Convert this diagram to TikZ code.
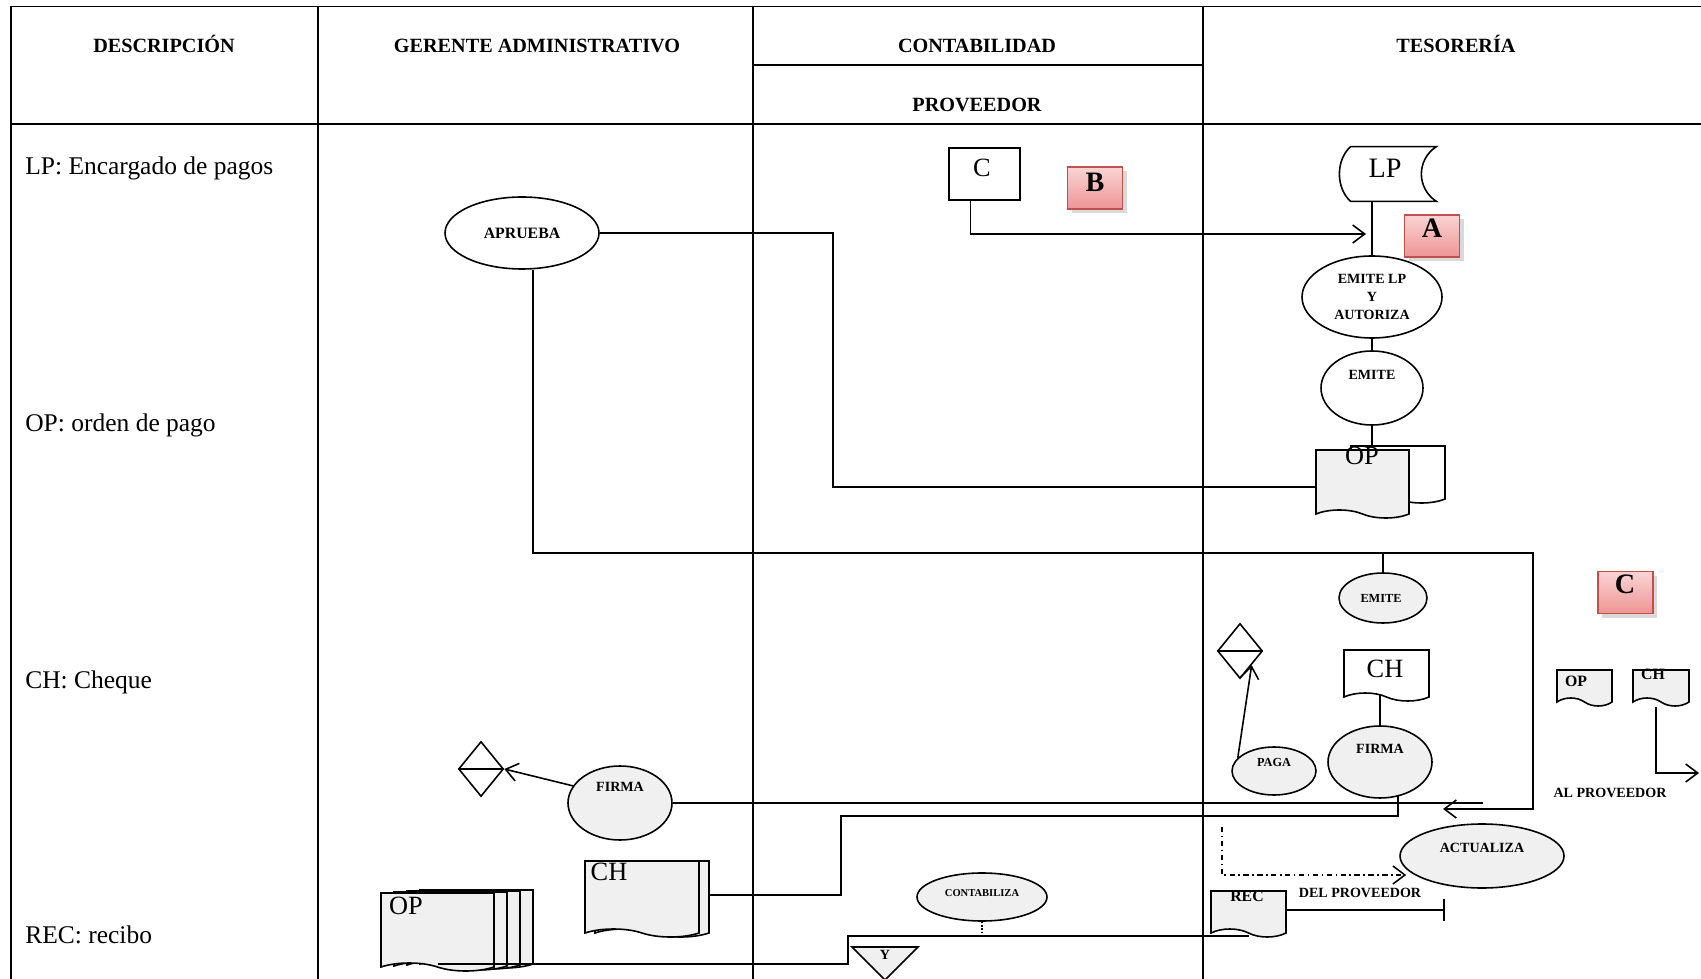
\documentclass[tikz,border=0pt]{standalone}
\usepackage{fontspec}
\setmainfont{Liberation Serif}
\usepackage{tikz}
\usetikzlibrary{arrows.meta,calc,shapes.geometric,shapes.symbols,shadows}
\definecolor{docgray}{HTML}{F0F0F0}
\definecolor{rtop}{HTML}{FAD4D4}
\definecolor{rbot}{HTML}{EE9494}
\definecolor{rline}{HTML}{C0504D}
\newcommand{\ftsz}[2]{\fontsize{#1}{#2}\selectfont}
\tikzset{
  tbl/.style   ={line width=1.1pt},
  ln/.style    ={line width=0.9pt},
  arr/.style   ={ln, -{Straight Barb[length=2.4mm,width=3.6mm]}},
  hdr/.style   ={font=\ftsz{11.5}{13}\bfseries, anchor=base, inner sep=0pt},
  desc/.style  ={font=\ftsz{14.5}{17}, anchor=base west, inner sep=0pt},
  big/.style   ={font=\ftsz{15}{18}, inner sep=0pt},
  sml/.style   ={font=\ftsz{8}{10}\bfseries, align=center, inner sep=0pt},
  ell/.style   ={draw, ellipse, ln, inner sep=0pt, fill=white},
  gell/.style  ={ell, fill=docgray},
  doc/.style   ={draw, ln, tape, tape bend top=none, tape bend bottom=out and in, tape bend height=1.6mm, inner sep=0pt, fill=docgray},
  sqbox/.style ={draw, ln, rectangle, inner sep=0pt, fill=white},
  rbox/.style  ={draw=rline, line width=0.8pt, top color=rtop, bottom color=rbot, drop shadow={opacity=0.3}, inner sep=0pt, minimum width=11mm, minimum height=8.4mm},
  rlet/.style  ={font=\ftsz{16}{18}\bfseries, inner sep=0pt},
  dia/.style   ={draw, ln, diamond, inner sep=0pt, minimum width=9mm, minimum height=11mm},
}
\begin{document}
\begin{tikzpicture}[x=0.2mm, y=-0.2mm]
  \useasboundingbox (0,0) rectangle (1701,979);
  % table frame
  \draw[tbl] (11,6.5) -- (1701,6.5);
  \draw[tbl] (11,124) -- (1701,124);
  \draw[tbl] (753,65) -- (1203,65);
  \foreach \cx in {11,318,753,1203}
    \draw[tbl] (\cx,6.5) -- (\cx,979);

  % column heads
  \node[hdr] (hdesc) at (164,53)  {DESCRIPCIÓN};
  \node[hdr] (hger)  at (537,53)  {GERENTE ADMINISTRATIVO};
  \node[hdr] (hcont) at (977,53)  {CONTABILIDAD};
  \node[hdr] (hprov) at (977,112) {PROVEEDOR};
  \node[hdr] (htes)  at (1456,53) {TESORERÍA};

  % description column
  \node[desc] (dlp)  at (25,175) {LP: Encargado de pagos};
  \node[desc] (dop)  at (25,432) {OP: orden de pago};
  \node[desc] (dch)  at (25,688) {CH: Cheque};
  \node[desc] (drec) at (25,943) {REC: recibo};

  % Gerente administrativo
  \node[ell, minimum width=30.8mm, minimum height=14.4mm, font=\ftsz{9}{11}\bfseries] (apr) at (522,233) {APRUEBA};
  \node[dia] (dg) at (481,769) {};
  \draw[ln] (dg.west) -- (dg.east);
  \node[gell, minimum width=20.8mm, minimum height=14.8mm] (firg) at (620,803) {};
  \node[sml] (firgt) at (620,787) {FIRMA};
  \node[doc, minimum width=22.8mm, minimum height=15.2mm] (chgb) at (652,895) {};
  \node[doc, minimum width=22.8mm, minimum height=15.2mm] (chg)  at (642,895) {};
  \node[big] (chgt) at (609,872) {CH};
  \foreach \k in {3,2,1}
    \node[doc, minimum width=22.6mm, minimum height=15.6mm] (opg\k) at ({437.5+13*\k},{928-\k}) {};
  \node[doc, minimum width=22.6mm, minimum height=15.6mm] (opg) at (437.5,928) {};
  \node[big] (opgt) at (406,906) {OP};

  % Contabilidad / proveedor
  \node[sqbox, minimum width=14.2mm, minimum height=10.4mm] (cbox) at (984.5,174) {};
  \node[big] (cboxt) at (982,168) {C};
  \node[rbox] (rb) at (1095,188) {};
  \node[rlet] (rbt) at (1095,182) {B};
  \node[gell, minimum width=26mm, minimum height=9.6mm] (cont) at (982,897) {};
  \node[sml, font=\ftsz{6}{7}\bfseries] (contt) at (982,893) {CONTABILIZA};
  \draw[ln, fill=docgray] (852,947) -- (918,947) -- (885,980) -- cycle;
  \node[sml] (yt) at (885,955) {Y};

  % Tesoreria
  \node[minimum width=17mm, minimum height=10.8mm] (lp) at (1393.5,174) {};
  \draw[ln, fill=white] (lp.north west) -- (lp.north east)
       .. controls +(-20,13) and +(-20,-13) .. (lp.south east) -- (lp.south west)
       .. controls +(-15,-13) and +(-15,13) .. (lp.north west) -- cycle;
  \node[big, font=\ftsz{16}{18}] (lpt) at (1385,168) {LP};
  \node[rbox] (ra) at (1432,236) {};
  \node[rlet] (rat) at (1432,228) {A};
  \node[ell, minimum width=28mm, minimum height=16.4mm, font=\ftsz{8}{10}\bfseries, align=center] (elp) at (1372,297) {EMITE LP\\Y\\AUTORIZA};
  \node[ell, minimum width=20.4mm, minimum height=14.8mm] (emi) at (1372,388) {};
  \node[sml] (emit) at (1372,375) {EMITE};
  \node[doc, fill=white, minimum width=18.8mm, minimum height=11.4mm] (opb) at (1398,470.5) {};
  \node[doc, minimum width=18.6mm, minimum height=13.6mm] (opf) at (1362.5,480) {};
  \node[big] (opft) at (1362,456) {OP};
  \node[gell, minimum width=17.6mm, minimum height=10mm] (emi2) at (1383,598) {};
  \node[sml, font=\ftsz{7}{8}\bfseries] (emi2t) at (1381,598) {EMITE};
  \node[dia] (dt) at (1240,651) {};
  \draw[ln] (dt.west) -- (dt.east);
  \node[doc, fill=white, minimum width=17mm, minimum height=10.2mm] (cht) at (1386.5,671.5) {};
  \node[big] (chtt) at (1385,669) {CH};
  \node[gell, minimum width=20.8mm, minimum height=14.4mm] (fir) at (1380,762) {};
  \node[sml] (firt) at (1380,749) {FIRMA};
  \node[gell, minimum width=16.8mm, minimum height=9.6mm] (pag) at (1274,771) {};
  \node[sml, font=\ftsz{7}{8}\bfseries] (pagt) at (1274,762) {PAGA};
  \node[gell, minimum width=32.8mm, minimum height=12.8mm] (act) at (1482,856) {};
  \node[sml] (actt) at (1482,848) {ACTUALIZA};
  \node[doc, minimum width=15mm, minimum height=9.2mm] (rec) at (1248.5,910) {};
  \node[sml, font=\ftsz{9}{10}\bfseries] (rect) at (1247,896) {REC};
  \node[sml] (delp) at (1360,893) {DEL PROVEEDOR};

  % outside the table
  \node[rbox] (rc) at (1625.5,592.5) {};
  \node[rlet] (rct) at (1625,584) {C};
  \node[doc, minimum width=11mm, minimum height=7.2mm] (opc) at (1584.5,684) {};
  \node[sml, font=\ftsz{9}{10}\bfseries] (opct) at (1576,681) {OP};
  \node[doc, minimum width=11.2mm, minimum height=7.2mm] (chc) at (1661,684) {};
  \node[sml, font=\ftsz{9}{10}\bfseries] (chct) at (1653,674) {CH};
  \node[sml] (alp) at (1610,793) {AL PROVEEDOR};
  \coordinate (alpend) at (1699,773);

  % LP chain down to OP
  \draw[ln] (elp.north |- lp.south) -- (elp.north);
  \draw[ln] (elp.south) -- (emi.north);
  \draw[ln] (emi.south) -- (emi.south |- opb.north);
  \coordinate (lpin) at (1366,234);
  \draw[arr] (cbox.south) ++(-14,0) |- (lpin);

  % APRUEBA out to OP, and round to the cheque
  \draw[ln] (apr.east) -| (833,487) -- (833,487 -| opf.west);
  \draw[arr] (apr.south) ++(11,0) |- (1533,553) |- (1443,809);
  \draw[ln] (emi2.north |- 1533,553) -- (emi2.north);

  % signatures
  \draw[ln] (firg.east) -- (1483,803);
  \draw[arr] (firg.160) -- (dg.east);
  \draw[ln] (chgb.east) -| (841,816) -| ($(fir.south)+(18,-3)$);
  \draw[ln] (fir.north |- cht.south) -- (fir.north);
  \draw[arr] (pag.160) -- (dt.south east);

  % receipt and posting
  \coordinate (dd) at (1222,827);
  \draw[arr, dash dot] (dd) |- ($(act.west |- dd)+(7,48)$);
  \draw[ln, -{Bar[width=4.4mm]}] (rec.east) -- ++(158,0);
  \draw[ln] (opg.south) -| (848,936) -- (rec.south |- 848,936);
  \draw[ln, densely dotted] (cont.south) -- (cont.south |- 848,936);
  \draw[arr] (chc.south) ++(-5,8) |- (alpend);
\end{tikzpicture}
\end{document}
